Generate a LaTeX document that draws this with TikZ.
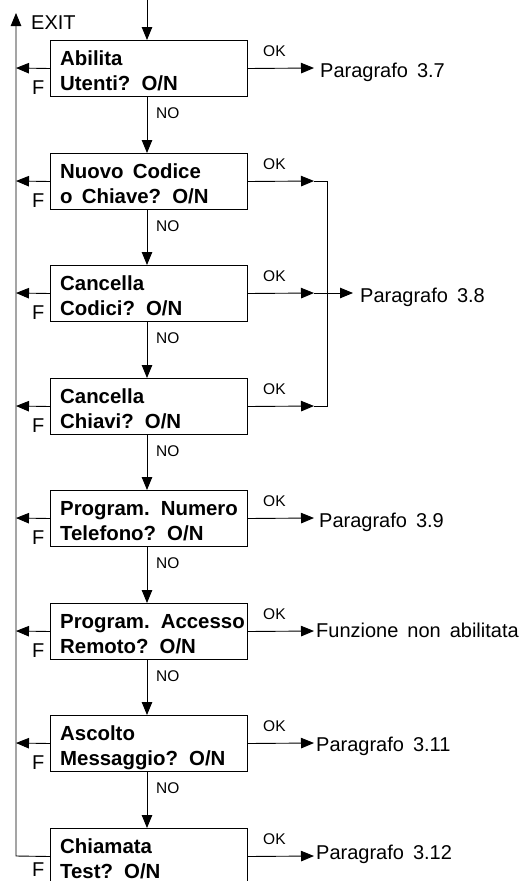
\documentclass[tikz,border=0pt]{standalone}
\usepackage{fontspec}
\setmainfont{Liberation Sans}
\usetikzlibrary{arrows.meta}
\newcommand\wsp{\spaceskip=0.45em plus 0.1em\relax}
\tikzset{
  box/.style={draw, line width=1pt, minimum width=197pt, minimum height=56pt, inner sep=0pt, anchor=north west},
  boxtxt/.style={anchor=base west, inner sep=0pt, font=\fontsize{20.4}{24}\selectfont\bfseries\wsp},
  lbl/.style={anchor=base west, inner sep=0pt, font=\fontsize{20}{24}\selectfont\wsp},
  small/.style={anchor=base west, inner sep=0pt, font=\fontsize{15.5}{18}\selectfont},
  arr/.style={line width=0.9pt, -{Triangle[length=13pt,width=10.5pt]}},
  ln/.style={line width=0.9pt},
}
\newcommand\qbox[5]{% name, top, line1, line2, F baseline offset
  \node[box] (#1) at (50,#2) {};
  \node[boxtxt] (#1a) at (60,{#2+25}) {#3};
  \node[boxtxt] (#1b) at (60,{#2+50}) {#4};
  \coordinate (#1L) at (16,{#2+28});
  \node[lbl] (#1F) at (32,{#2+#5}) {F};
  \node[small] (#1ok) at (263,{#2+16}) {OK};
}
\begin{document}
\begin{tikzpicture}[x=1pt,y=-1pt]
\useasboundingbox (0,0) rectangle (529,881);
\qbox{b1}{40}{Abilita}{Utenti? O/N}{54}
\qbox{b2}{153}{Nuovo Codice}{o Chiave? O/N}{54}
\qbox{b3}{265}{Cancella}{Codici? O/N}{54}
\qbox{b4}{378}{Cancella}{Chiavi? O/N}{54}
\qbox{b5}{490}{Program. Numero}{Telefono? O/N}{54}
\qbox{b6}{603}{Program. Accesso}{Remoto? O/N}{54}
\qbox{b7}{715}{Ascolto}{Messaggio? O/N}{54}
\qbox{b8}{828}{Chiamata}{Test? O/N}{48}
% entry
\coordinate (in) at (147,0);
\draw[arr] (in) -- (147,40);
% NO arrows
\foreach \a/\b/\t in {b1/b2/96,b2/b3/209,b3/b4/321,b4/b5/434,b5/b6/546,b6/b7/659,b7/b8/771}{
  \draw[arr] (\a.south -| in) -- (\b.north -| in);
  \node[small] at (156,{\t+22}) {NO};
}
% F arrows
\foreach \b in {b1,b2,b3,b4,b5,b6,b7}{
  \draw[arr] (\b.west) -- (\b L);
}
% exit line
\coordinate (exit) at (16,13);
\draw[arr] (b8.west) -- (b8L) -- (exit);
\node[lbl] (exitt) at (31,29) {EXIT};
% OK arrows
\node[lbl] (p37) at (320,{68+9}) {Paragrafo 3.7};
\draw[arr] (b1.east) -- (314,68);
\node[lbl] (p39) at (319,{518+9}) {Paragrafo 3.9};
\draw[arr] (b5.east) -- (314,518);
\node[lbl] (fna) at (316,{631+6}) {Funzione non abilitata};
\draw[arr] (b6.east) -- (314,631);
\node[lbl] (p311) at (316,{743+8}) {Paragrafo 3.11};
\draw[arr] (b7.east) -- (314,743);
\node[lbl] (p312) at (316,{856+3}) {Paragrafo 3.12};
\draw[arr] (b8.east) -- (314,856);
% 3.8 group
\coordinate (r2) at (327,181);
\coordinate (r3) at (327,293);
\coordinate (r4) at (327,406);
\draw[arr] (b2.east) -- (314,181);
\draw[ln] (314,181) -- (r2) -- (r4) -- (314,406);
\draw[arr] (b4.east) -- (314,406);
\draw[arr] (b3.east) -- (314,293);
\draw[ln] (314,293) -- (r3);
\node[lbl] (p38) at (360,{293+9}) {Paragrafo 3.8};
\draw[arr] (r3) -- (353,293);
\end{tikzpicture}
\end{document}
